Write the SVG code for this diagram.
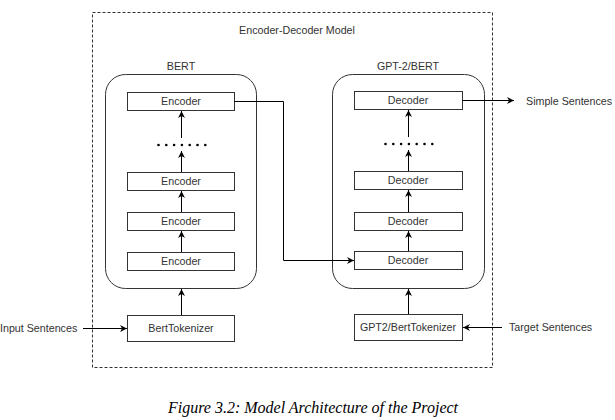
<svg xmlns="http://www.w3.org/2000/svg" width="615" height="420" viewBox="0 0 615 420">
<defs>
<marker id="ah" viewBox="0 0 10 10" refX="10" refY="5" markerWidth="7" markerHeight="7" markerUnits="userSpaceOnUse" orient="auto">
<path d="M0,0 L10,5 L0,10 L3,5 Z" fill="#000"/>
</marker>
</defs>
<style>
.t{font-family:"Liberation Sans",Arial,sans-serif;font-size:10.7px;fill:#333;text-anchor:middle}
.tl{font-family:"Liberation Sans",Arial,sans-serif;font-size:10.7px;fill:#333}
.box{fill:#fff;stroke:#333;stroke-width:1}
.grp{fill:#fff;stroke:#333;stroke-width:1}
.c{fill:none;stroke:#000;stroke-width:1;marker-end:url(#ah)}
.dot{fill:#000}
.cap{font-family:"Liberation Serif","Times New Roman",serif;font-style:italic;font-size:16px;fill:#000;text-anchor:middle}
</style>
<rect width="615" height="420" fill="#fff"/>
<g id="outer">
<rect x="92.5" y="12.5" width="400" height="355" fill="none" stroke="#333" stroke-dasharray="3,2"/>
<text class="t" x="297" y="34">Encoder-Decoder Model</text>
</g>
<g id="bert">
<rect class="grp" x="105.5" y="74.5" width="151" height="214" rx="20" ry="20"/>
<text class="t" x="181" y="70">BERT</text>
</g>
<g id="gpt2bert">
<rect class="grp" x="332.5" y="74.5" width="152" height="214" rx="20" ry="20"/>
<text class="t" x="408" y="70">GPT-2/BERT</text>
</g>
<g id="enc4"><rect class="box" x="127.5" y="92.5" width="107" height="18"/><text class="t" x="181" y="105">Encoder</text></g>
<g id="enc3"><rect class="box" x="127.5" y="172.5" width="107" height="18"/><text class="t" x="181" y="185">Encoder</text></g>
<g id="enc2"><rect class="box" x="127.5" y="212.5" width="107" height="18"/><text class="t" x="181" y="225">Encoder</text></g>
<g id="enc1"><rect class="box" x="127.5" y="252.5" width="107" height="18"/><text class="t" x="181" y="265">Encoder</text></g>
<g id="berttok"><rect class="box" x="127.5" y="315.5" width="107" height="26"/><text class="t" x="181" y="332">BertTokenizer</text></g>
<g id="dec4"><rect class="box" x="354.5" y="91.5" width="108" height="18"/><text class="t" x="408" y="104">Decoder</text></g>
<g id="dec3"><rect class="box" x="354.5" y="171.5" width="108" height="18"/><text class="t" x="408" y="184">Decoder</text></g>
<g id="dec2"><rect class="box" x="354.5" y="212.5" width="108" height="18"/><text class="t" x="408" y="225">Decoder</text></g>
<g id="dec1"><rect class="box" x="354.5" y="251.5" width="108" height="18"/><text class="t" x="408" y="264">Decoder</text></g>
<g id="gpttok"><rect class="box" x="354.5" y="314.5" width="108" height="26"/><text class="t" x="408" y="331">GPT2/BertTokenizer</text></g>
<g id="dots-left">
<circle class="dot" cx="158.5" cy="145" r="1.3"/><circle class="dot" cx="166.3" cy="145" r="1.3"/><circle class="dot" cx="174.1" cy="145" r="1.3"/><circle class="dot" cx="181.9" cy="145" r="1.3"/><circle class="dot" cx="189.7" cy="145" r="1.3"/><circle class="dot" cx="197.5" cy="145" r="1.3"/><circle class="dot" cx="205.3" cy="145" r="1.3"/>
</g>
<g id="dots-right">
<circle class="dot" cx="385.5" cy="144" r="1.3"/><circle class="dot" cx="393.3" cy="144" r="1.3"/><circle class="dot" cx="401.1" cy="144" r="1.3"/><circle class="dot" cx="408.9" cy="144" r="1.3"/><circle class="dot" cx="416.7" cy="144" r="1.3"/><circle class="dot" cx="424.5" cy="144" r="1.3"/><circle class="dot" cx="432.3" cy="144" r="1.3"/>
</g>
<g id="labels">
<text class="tl" x="0" y="332">Input Sentences</text>
<text class="tl" x="526" y="105">Simple Sentences</text>
<text class="tl" x="509" y="331">Target Sentences</text>
</g>
<g id="connectors">
<path class="c" d="M181.5,315 V289"/>
<path class="c" d="M181.5,252 V231"/>
<path class="c" d="M181.5,212 V191"/>
<path class="c" d="M181.5,172 V151"/>
<path class="c" d="M181.5,138 V111"/>
<path class="c" d="M83,328.5 H127"/>
<path class="c" d="M234.5,101.5 H283.5 V260.5 H354"/>
<path class="c" d="M408.5,314 V289"/>
<path class="c" d="M408.5,251 V231"/>
<path class="c" d="M408.5,212 V190"/>
<path class="c" d="M408.5,171 V150"/>
<path class="c" d="M408.5,137 V110"/>
<path class="c" d="M462.5,100.5 H514"/>
<path class="c" d="M502,327.5 H463"/>
</g>
<text class="cap" x="313" y="413">Figure 3.2: Model Architecture of the Project</text>
</svg>
